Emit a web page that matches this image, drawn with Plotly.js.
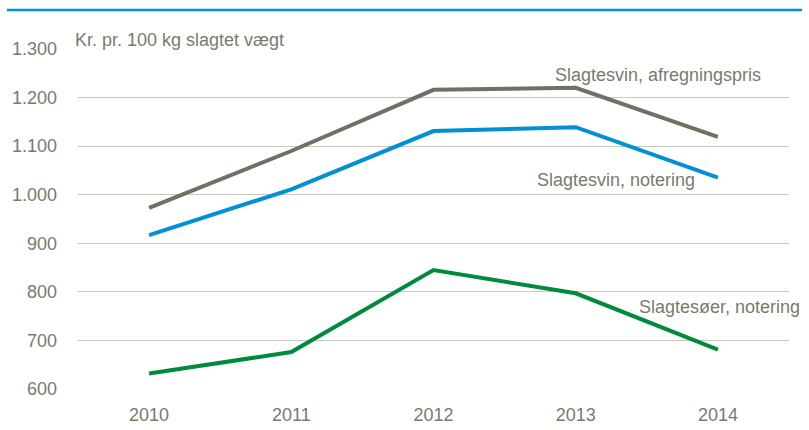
<!DOCTYPE html>
<html>
<head>
<meta charset="utf-8">
<script src="https://cdn.plot.ly/plotly-3.0.1.min.js"></script>
<style>
  html, body { margin: 0; padding: 0; background: #ffffff; }
  #chart { width: 809px; height: 430px; }
</style>
</head>
<body>
<div id="chart"></div>
<script>
const years = ['2010', '2011', '2012', '2013', '2014'];
const slagtesvinAfregning = [973, 1090, 1216, 1220, 1119];
const slagtesvinNotering = [917, 1011, 1131, 1139, 1035];
const slagtesoerNotering = [632, 676, 845, 797, 681];
const seriesNames = ['Slagtesvin, afregningspris', 'Slagtesvin, notering', 'Slagtesøer, notering'];
const yTicks = [600, 700, 800, 900, 1000, 1100, 1200, 1300];
const unitLabel = 'Kr. pr. 100 kg slagtet vægt';

const FONT = '"Liberation Sans", Arial, sans-serif';
const FS = 18;
const TXT = '#7a7a6c';

function line(y, color, name) {
  return {
    type: 'scatter', mode: 'lines', x: years, y: y, name: name,
    line: { color: color, width: 4, shape: 'linear' },
    cliponaxis: false, hoverinfo: 'skip'
  };
}

const data = [
  line(slagtesvinAfregning, '#707064', seriesNames[0]),
  line(slagtesvinNotering, '#0090d4', seriesNames[1]),
  line(slagtesoerNotering, '#008a3c', seriesNames[2])
];

const lblFont = { family: FONT, size: FS, color: TXT };

const layout = {
  width: 809, height: 430,
  margin: { l: 78, r: 20, t: 49, b: 41 },
  paper_bgcolor: '#ffffff', plot_bgcolor: '#ffffff',
  showlegend: false,
  separators: ',.',
  font: lblFont,
  xaxis: {
    type: 'category', range: [-0.5, 4.5],
    showgrid: false, zeroline: false, showline: false,
    ticks: '', ticklabelstandoff: 13,
    tickfont: lblFont
  },
  yaxis: {
    range: [600, 1300], tickvals: yTicks, tickformat: ',d',
    showgrid: true, gridcolor: '#c8c8bc', gridwidth: 1,
    zeroline: false, showline: false, ticks: '', ticklabelstandoff: 20,
    tickfont: lblFont
  },
  shapes: [{
    type: 'line', xref: 'paper', yref: 'paper',
    x0: -0.0999, x1: 1.0183, y0: 1.1147, y1: 1.1147,
    line: { color: '#0090d4', width: 2.5 }
  }],
  annotations: [
    { text: unitLabel, xref: 'paper', yref: 'paper', x: -0.007, y: 1.027, xanchor: 'left', yanchor: 'middle', showarrow: false, font: lblFont },
    { text: seriesNames[0], x: 3.58, y: 1246, xanchor: 'center', yanchor: 'middle', showarrow: false, font: lblFont },
    { text: seriesNames[1], x: 3.283, y: 1031, xanchor: 'center', yanchor: 'middle', showarrow: false, font: lblFont },
    { text: seriesNames[2], x: 4.013, y: 768, xanchor: 'center', yanchor: 'middle', showarrow: false, font: lblFont }
  ]
};

Plotly.newPlot('chart', data, layout, { displayModeBar: false, staticPlot: true });
</script>
</body>
</html>
